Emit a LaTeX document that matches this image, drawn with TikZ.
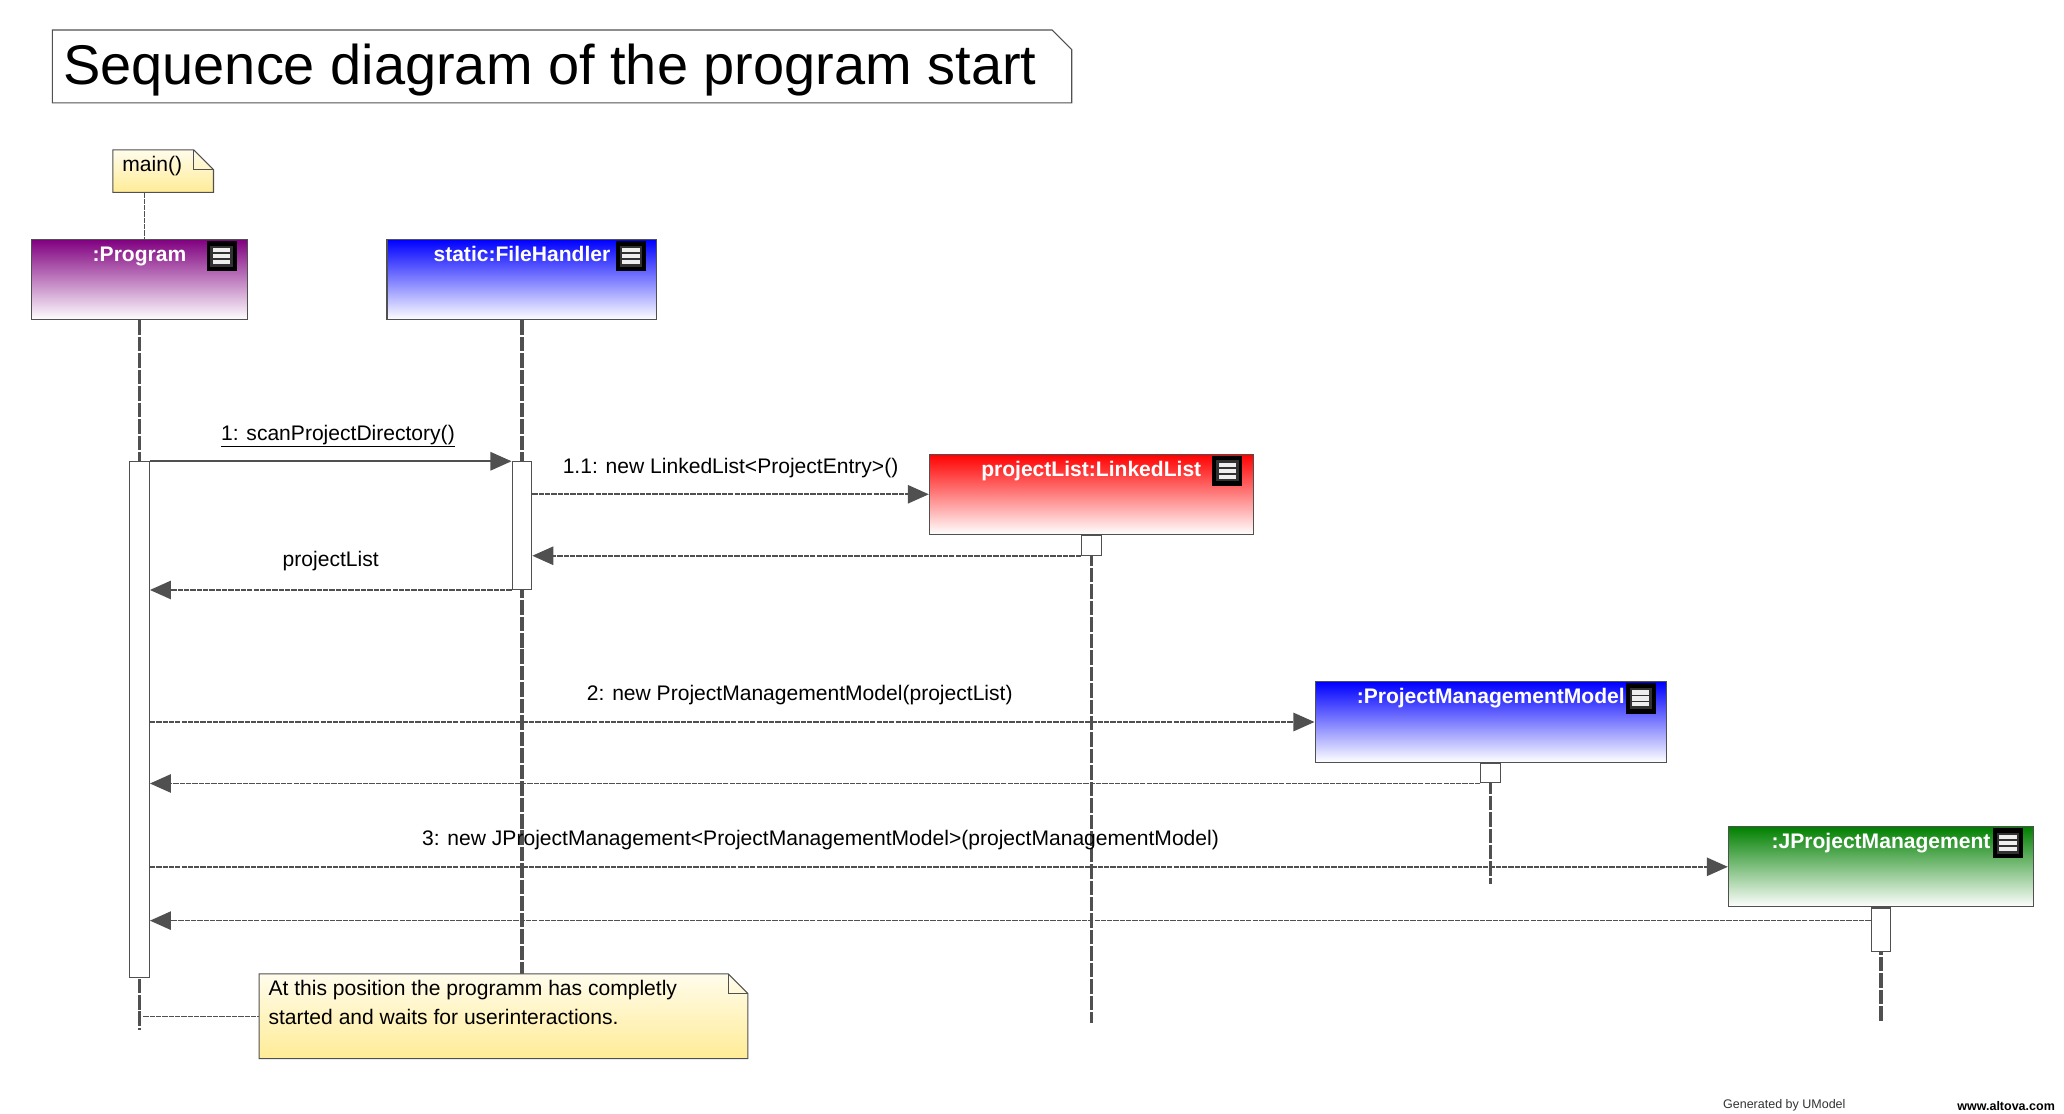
\documentclass[tikz,border=0pt]{standalone}
\usepackage{fontspec}
\setmainfont{Liberation Sans}
\usepackage{tikz}
\usetikzlibrary{
  arrows.meta,
  positioning,
  calc
}

\definecolor{linegray}{RGB}{80,80,80}
\definecolor{notetop}{RGB}{255,252,235}
\definecolor{notebot}{RGB}{255,236,150}
\definecolor{hdrpurple}{RGB}{128,0,128}
\definecolor{hdrblue}{RGB}{0,0,255}
\definecolor{hdrred}{RGB}{255,0,0}
\definecolor{hdrgreen}{RGB}{0,128,0}
\definecolor{icongray}{RGB}{50,50,50}
\definecolor{iconbar}{RGB}{238,238,238}

\newcommand{\msgfont}{\fontsize{16}{22}\selectfont}

\tikzset{
  header/.style={draw=linegray, line width=0.8pt, top color=#1, bottom color=white,
    minimum height=61pt, inner sep=0pt},
  hdrtext/.style={text=white, font=\msgfont\bfseries, inner sep=0pt,
    text height=12pt, text depth=3.5pt},
  actbox/.style={draw=linegray, line width=0.8pt, fill=white, minimum width=15pt, inner sep=0pt},
  lifeline/.style={draw=linegray, line width=2.5pt, dash pattern=on 11pt off 1.5pt},
  call/.style={draw=linegray, line width=1.2pt, -{Triangle[length=16pt,width=14pt]}},
  reply/.style={call, dash pattern=on 4pt off 0.8pt},
  msgtext/.style={font=\msgfont, inner sep=0pt, text height=12pt, text depth=3.5pt, above=12pt},
  noteshape/.style={draw=linegray, line width=0.8pt, top color=notetop, bottom color=notebot},
  notelink/.style={draw=linegray, line width=0.9pt, dash pattern=on 4pt off 0.8pt},
  notetext/.style={font=\msgfont, inner sep=0pt, align=left, anchor=north west},
  menuicon/.pic={
    \fill[black] (-11.5,-11.5) rectangle (11.5,11.5);
    \fill[icongray] (-8.5,-8) rectangle (8.5,8);
    \fill[iconbar] (-6.5,-6.1) rectangle (6.5,-2.9);
    \fill[iconbar] (-6.5,-1.6) rectangle (6.5,1.6);
    \fill[iconbar] (-6.5,2.9) rectangle (6.5,6.1);
  }
}

% outline of a note with a folded corner
\newcommand{\foldnote}[3]{%
  \path[#3] (#1.north west) -- ($(#1.north east)+(-#2,0)$) -- ($(#1.north east)+(0,#2)$)
    -- (#1.south east) -- (#1.south west) -- cycle;
}
\newcommand{\foldcorner}[2]{%
  \draw[linegray, line width=0.8pt] ($(#1.north east)+(-#2,0)$) -- ($(#1.north east)+(-#2,#2)$)
    -- ($(#1.north east)+(0,#2)$);
}

\begin{document}
\begin{tikzpicture}[x=1pt, y=-1pt]
    \useasboundingbox (0,0) rectangle (1568,846);

    % Title
    \node[minimum width=774pt, minimum height=55pt, inner sep=0pt] (titleBox) at (427,50.5) {};
    \foldnote{titleBox}{15}{draw=linegray, line width=0.8pt, fill=white}
    \node[anchor=west, font=\fontsize{42.5}{50}\selectfont, inner sep=0pt] (titleText)
      at ($(titleBox.west)+(8,3)$) {Sequence diagram of the program start};

    % Note: main()
    \node[minimum width=76pt, minimum height=32pt, inner sep=0pt] (mainNote) at (124,130) {};
    \foldnote{mainNote}{15}{noteshape}
    \foldcorner{mainNote}{15}
    \node[notetext] (mainText) at ($(mainNote.north west)+(7,4.5)$) {main()};

    % Lifeline heads
    \node[header=hdrpurple, minimum width=164pt] (progHead) at (106,212.5) {};
    \node[hdrtext, below=5pt of progHead.north] (progLabel) {:Program};
    \pic at ($(progHead.north east)+(-20,13)$) {menuicon};

    \node[header=hdrblue, minimum width=205pt] (fhHead) at (396.5,212.5) {};
    \node[hdrtext, below=5pt of fhHead.north] (fhLabel) {static:FileHandler};
    \pic at ($(fhHead.north east)+(-20,13)$) {menuicon};

    \node[header=hdrred, minimum width=246pt] (llHead) at (829,375.5) {};
    \node[hdrtext, below=5pt of llHead.north] (llLabel) {projectList:LinkedList};
    \pic at ($(llHead.north east)+(-20,13)$) {menuicon};

    \node[header=hdrblue, minimum width=267pt] (pmmHead) at (1132.5,548.5) {};
    \node[hdrtext, below=5pt of pmmHead.north] (pmmLabel) {:ProjectManagementModel};
    \pic at ($(pmmHead.north east)+(-20,13)$) {menuicon};

    \node[header=hdrgreen, minimum width=232pt] (jpmHead) at (1429,658.5) {};
    \node[hdrtext, below=5pt of jpmHead.north] (jpmLabel) {:JProjectManagement};
    \pic at ($(jpmHead.north east)+(-20,13)$) {menuicon};

    \draw[notelink] ($(mainNote.south)+(-14,0)$) -- ($(progHead.north)+(4,0)$);

    % Lifelines
    \draw[lifeline] (progHead.south) -- ++(0,539);
    \draw[lifeline] (fhHead.south) -- ++(0,498);
    \draw[lifeline] (llHead.south) -- ++(0,371);
    \draw[lifeline] (pmmHead.south) -- ++(0,92);
    \draw[lifeline] (jpmHead.south) -- ++(0,87);

    % Activations
    \node[actbox, minimum height=392pt, below=107pt of progHead] (progAct) {};
    \node[actbox, minimum height=97pt, below=107pt of fhHead] (fhAct) {};
    \node[actbox, minimum height=15pt, below=0pt of llHead] (llAct) {};
    \node[actbox, minimum height=15pt, below=0pt of pmmHead] (pmmAct) {};
    \node[actbox, minimum height=33pt, below=0pt of jpmHead] (jpmAct) {};
    \coordinate (jpmRet) at ($(jpmAct.north west)+(0,10)$);

    % Messages
    \draw[call] (progAct.north east) -- node[msgtext, pos=0.52] {\underline{1: scanProjectDirectory()}} (fhAct.north west);
    \draw[reply] (fhAct.east |- llHead.west) -- node[msgtext] {1.1: new LinkedList<ProjectEntry>()} (llHead.west);
    \draw[reply] (llAct.south west) -- (fhAct.east |- llAct.south west);
    \draw[reply] (fhAct.south west) -- node[msgtext, above=14pt] {projectList} (progAct.east |- fhAct.south);
    \draw[reply] (progAct.east |- pmmHead.west) -- node[msgtext, pos=0.558]
      {2: new ProjectManagementModel(projectList)} (pmmHead.west);
    \draw[reply] (pmmAct.south west) -- (progAct.east |- pmmAct.south);
    \draw[reply] (progAct.east |- jpmHead.west) -- node[msgtext, pos=0.425]
      {3: new JProjectManagement<ProjectManagementModel>(projectManagementModel)} (jpmHead.west);
    \draw[reply] (jpmRet) -- (progAct.east |- jpmRet);

    % Note: end of start
    \node[minimum width=371pt, minimum height=64pt, inner sep=0pt] (endNote) at (382.5,772) {};
    \foldnote{endNote}{15}{noteshape}
    \foldcorner{endNote}{15}
    \node[notetext] (endText) at ($(endNote.north west)+(7,4.5)$)
      {At this position the programm has completly\\started and waits for userinteractions.};
    \draw[notelink] ($(endNote.west -| progHead.south)+(3,0)$) -- (endNote.west);

    % Footer
    \node[font=\fontsize{9.5}{11}\selectfont, text=black!80, inner sep=0pt] (genText) at (1355.5,840) {Generated by UModel};
    \node[font=\fontsize{9.5}{11}\selectfont\bfseries, inner sep=0pt] (siteText) at (1524,840) {www.altova.com};
  \end{tikzpicture}
\end{document}
